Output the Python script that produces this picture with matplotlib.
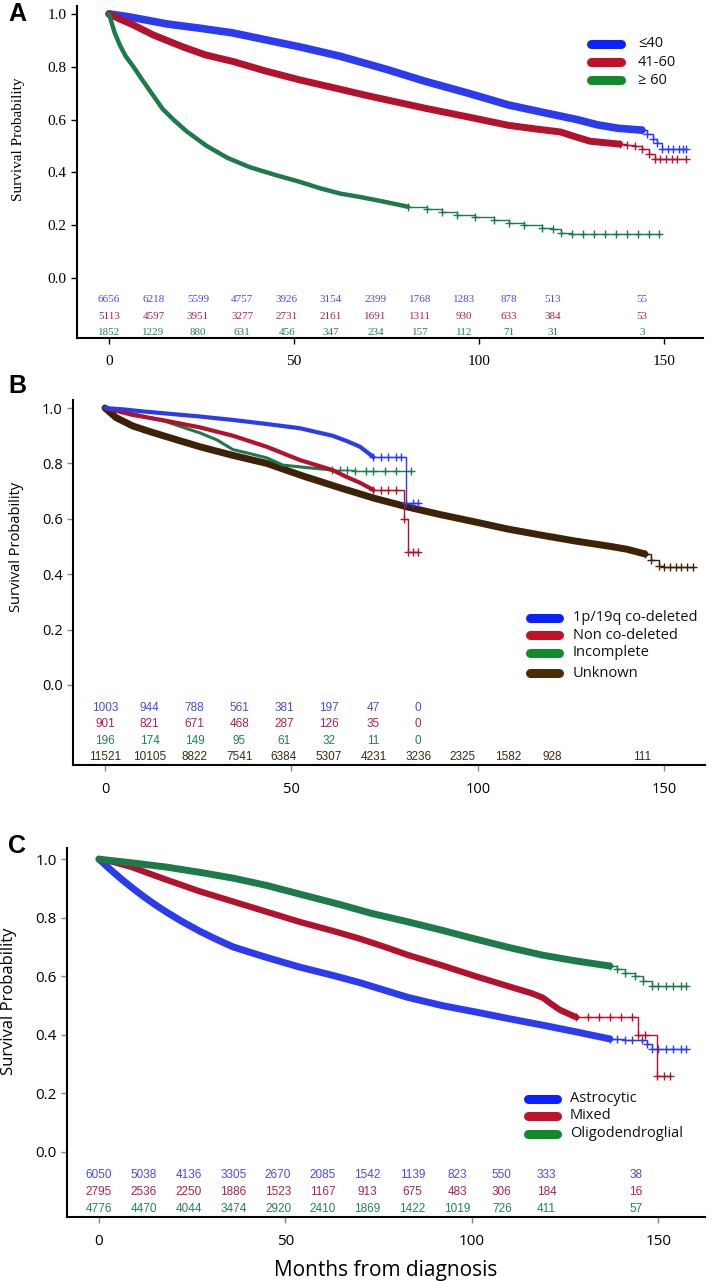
import matplotlib
matplotlib.use("Agg")
import matplotlib.pyplot as plt

# ---- data ----
# panel A: age groups
A_groups = ["≤40", "41-60", "≥ 60"]
A_t_blue = [0, 5, 10, 15.7, 25, 33.5, 42, 51.6, 62.4, 75, 85.4, 97, 108, 118, 126.5, 132, 137.6, 144]
A_s_blue = [1, 0.99, 0.977, 0.962, 0.945, 0.928, 0.903, 0.875, 0.84, 0.79, 0.745, 0.70, 0.655, 0.625,
            0.60, 0.58, 0.567, 0.56]
A_tail_t_blue = [144, 145.5, 147, 148, 149.5, 151, 152.5, 154, 155, 156]
A_tail_s_blue = [0.56, 0.545, 0.527, 0.51, 0.49, 0.49, 0.49, 0.49, 0.49, 0.49]
A_t_red = [0, 3, 6.6, 12, 20, 26, 33.5, 42, 51.6, 62.4, 70, 85.4, 97, 108, 115, 122, 126, 130, 138]
A_s_red = [1, 0.98, 0.958, 0.92, 0.875, 0.845, 0.82, 0.785, 0.75, 0.715, 0.69, 0.643, 0.61, 0.578,
           0.565, 0.553, 0.535, 0.518, 0.507]
A_tail_t_red = [138, 140, 142, 144, 146, 147.6, 149, 150.5, 152, 153.5, 156]
A_tail_s_red = [0.507, 0.505, 0.50, 0.49, 0.47, 0.45, 0.45, 0.45, 0.45, 0.45, 0.45]
A_t_green = [0, 1.5, 3, 4.5, 6.6, 9, 12, 14.5, 17.4, 21, 26.4, 32, 38, 45, 51.6, 57, 62.4, 67.8, 74, 80.8]
A_s_green = [1, 0.93, 0.88, 0.84, 0.80, 0.75, 0.69, 0.64, 0.60, 0.555, 0.50, 0.455, 0.42, 0.39, 0.364,
             0.34, 0.32, 0.307, 0.29, 0.27]
A_tail_t_green = [80.8, 86, 90, 94, 99, 104, 108, 112, 117, 120, 122, 125, 128, 131, 134, 137, 140, 143, 146, 148.6]
A_tail_s_green = [0.27, 0.26, 0.25, 0.24, 0.23, 0.22, 0.21, 0.20, 0.19, 0.186, 0.17, 0.165, 0.165, 0.165,
                  0.165, 0.165, 0.165, 0.165, 0.165, 0.165]
A_risk_months = [0, 12, 24, 36, 48, 60, 72, 84, 96, 108, 120, 144]
A_risk_blue = [6656, 6218, 5599, 4757, 3926, 3154, 2399, 1768, 1283, 878, 513, 55]
A_risk_red = [5113, 4597, 3951, 3277, 2731, 2161, 1691, 1311, 930, 633, 384, 53]
A_risk_green = [1852, 1229, 880, 631, 456, 347, 234, 157, 112, 71, 31, 3]

# panel B: 1p/19q status
B_groups = ["1p/19q co-deleted", "Non co-deleted", "Incomplete", "Unknown"]
B_t_blue = [0, 5, 10, 16.6, 25, 34.3, 43, 52.3, 61, 65, 68.4, 72]
B_s_blue = [1, 0.995, 0.988, 0.98, 0.97, 0.957, 0.943, 0.927, 0.90, 0.88, 0.86, 0.823]
B_tail_t_blue = [72, 74, 76, 78, 79.5, 80.7, 82.5, 84]
B_tail_s_blue = [0.823, 0.823, 0.823, 0.823, 0.823, 0.657, 0.657, 0.657]
B_t_red = [0, 3, 7.5, 16, 25.5, 34.3, 43.4, 52.3, 61, 65, 68.4, 72]
B_s_red = [1, 0.99, 0.975, 0.955, 0.93, 0.90, 0.86, 0.812, 0.776, 0.75, 0.73, 0.704]
B_tail_t_red = [72, 74, 76, 78, 80.2, 81.2, 82.5, 84]
B_tail_s_red = [0.704, 0.704, 0.704, 0.704, 0.60, 0.48, 0.48, 0.48]
B_t_green = [0, 3, 7.5, 12, 16.6, 21, 25.5, 30, 34.3, 39, 43.4, 47.7, 54, 61]
B_s_green = [1, 0.99, 0.98, 0.965, 0.95, 0.93, 0.91, 0.885, 0.85, 0.835, 0.82, 0.794, 0.785, 0.776]
B_tail_t_green = [61, 63, 65, 67, 70, 72, 75, 78, 82]
B_tail_s_green = [0.776, 0.776, 0.775, 0.773, 0.773, 0.773, 0.773, 0.773, 0.773]
B_t_brown = [0, 3, 7.5, 12, 16.6, 25.5, 34, 43.4, 53, 63, 72, 81, 90, 99.5, 108, 117.4, 126, 135.7, 140, 144.8]
B_s_brown = [1, 0.965, 0.935, 0.915, 0.896, 0.86, 0.83, 0.80, 0.755, 0.712, 0.675, 0.643, 0.615, 0.588,
             0.563, 0.54, 0.52, 0.50, 0.49, 0.473]
B_tail_t_brown = [144.8, 146.5, 148.5, 150, 151.5, 153, 154.5, 156, 157.6]
B_tail_s_brown = [0.473, 0.45, 0.43, 0.425, 0.425, 0.425, 0.425, 0.425, 0.425]
B_risk_months = [0, 12, 24, 36, 48, 60, 72, 84]
B_risk_months_brown = [0, 12, 24, 36, 48, 60, 72, 84, 96, 108, 120, 144]
B_risk_blue = [1003, 944, 788, 561, 381, 197, 47, 0]
B_risk_red = [901, 821, 671, 468, 287, 126, 35, 0]
B_risk_green = [196, 174, 149, 95, 61, 32, 11, 0]
B_risk_brown = [11521, 10105, 8822, 7541, 6384, 5307, 4231, 3236, 2325, 1582, 928, 111]

# panel C: histology
C_groups = ["Astrocytic", "Mixed", "Oligodendroglial"]
C_t_blue = [0, 3, 6, 9, 12, 15, 18, 22, 27, 31, 36, 45, 53.9, 62.7, 70, 82.8, 92, 101, 110, 119, 128, 137]
C_s_blue = [1, 0.965, 0.932, 0.901, 0.872, 0.845, 0.82, 0.789, 0.754, 0.729, 0.70, 0.664, 0.631, 0.603,
            0.578, 0.528, 0.50, 0.478, 0.455, 0.433, 0.41, 0.386]
C_tail_t_blue = [137, 139, 141, 143, 145.5, 147, 148.2, 150, 152, 154, 156, 157.4]
C_tail_s_blue = [0.386, 0.385, 0.384, 0.383, 0.382, 0.37, 0.352, 0.352, 0.352, 0.352, 0.352, 0.352]
C_t_red = [0, 4, 9, 13, 18, 27, 36, 45, 54, 62.7, 70, 76, 83, 92, 101, 110, 116, 119, 121, 123.6, 128]
C_s_red = [1, 0.99, 0.972, 0.953, 0.93, 0.89, 0.855, 0.82, 0.785, 0.755, 0.728, 0.703, 0.672, 0.637,
           0.60, 0.565, 0.542, 0.527, 0.508, 0.485, 0.46]
C_tail_t_red = [128, 131, 134, 137, 140, 143, 144.5, 146.5, 149.6, 151.5, 153]
C_tail_s_red = [0.46, 0.46, 0.46, 0.46, 0.46, 0.46, 0.40, 0.40, 0.26, 0.26, 0.26]
C_t_green = [0, 9, 18, 27, 36, 45, 54, 64.6, 73, 82.8, 92, 101, 110, 119, 128, 137]
C_s_green = [1, 0.987, 0.973, 0.955, 0.935, 0.91, 0.88, 0.845, 0.815, 0.786, 0.757, 0.727, 0.698, 0.672,
             0.652, 0.635]
C_tail_t_green = [137, 139, 141, 143.7, 146, 148.2, 150, 152, 154, 156, 157.4]
C_tail_s_green = [0.635, 0.625, 0.61, 0.60, 0.585, 0.567, 0.567, 0.567, 0.567, 0.567, 0.567]
C_risk_months = [0, 12, 24, 36, 48, 60, 72, 84, 96, 108, 120, 144]
C_risk_blue = [6050, 5038, 4136, 3305, 2670, 2085, 1542, 1139, 823, 550, 333, 38]
C_risk_red = [2795, 2536, 2250, 1886, 1523, 1167, 913, 675, 483, 306, 184, 16]
C_risk_green = [4776, 4470, 4044, 3474, 2920, 2410, 1869, 1422, 1019, 726, 411, 57]

xticks = [0, 50, 100, 150]
yticks = [0.0, 0.2, 0.4, 0.6, 0.8, 1.0]

# colours
BLUE, RED, GREEN, BROWN = "#2b3cf0", "#b3122c", "#1d7a4a", "#3e2208"
LEG = {"blue": "#0a22ff", "red": "#c0102a", "green": "#118a2a", "brown": "#4a2a08"}
NUM = {"blue": "#4a4ae6", "red": "#b0204a", "green": "#23805a", "brown": "#3a2a14"}

SERIF = ["Liberation Serif", "DejaVu Serif"]
SANS = ["Open Sans", "DejaVu Sans"]
NARROW = ["Liberation Sans Narrow", "Liberation Sans", "DejaVu Sans"]

W, H = 713, 1281
fig = plt.figure(figsize=(W / 100, H / 100), dpi=100)


def axes_px(left, right, top, bottom):
    return fig.add_axes([left / W, 1 - bottom / H, (right - left) / W, (bottom - top) / H])


def km(ax, t, s, tt, ts, col, lw, tail_lw=1.0):
    ax.plot(t, s, color=col, lw=lw, solid_joinstyle="round", solid_capstyle="round")
    ax.plot(tt, ts, color=col, lw=tail_lw, drawstyle="steps-post", marker="+", ms=6, mew=1.0)


def legend(ax, x0, x1, xt, rows, labels, cols, fs):
    for y, lab, c in zip(rows, labels, cols):
        ax.plot([x0, x1], [y, y], transform=ax.transAxes, color=c, lw=6.5,
                solid_capstyle="round", clip_on=False)
        ax.text(xt, y, lab, transform=ax.transAxes, va="center", ha="left",
                fontsize=fs, family=SANS, color="#111111")


def style(ax, fam, fs, tick_col, xl, yl):
    for sp in ["top", "right"]:
        ax.spines[sp].set_visible(False)
    ax.spines["left"].set_linewidth(1.5)
    ax.spines["bottom"].set_linewidth(1.5)
    ax.set_xlim(*xl)
    ax.set_ylim(*yl)
    ax.set_xticks(xticks)
    ax.set_yticks(yticks)
    ax.set_yticklabels(["%.1f" % v for v in yticks])
    ax.tick_params(direction="out", length=4, width=1, colors=tick_col, labelcolor="black")
    for lab in ax.get_xticklabels() + ax.get_yticklabels():
        lab.set_family(fam)
        lab.set_fontsize(fs)


# ---------------- A ----------------
axA = axes_px(77, 703, 6, 338)
style(axA, SERIF, 11, "black", (-8.65, 160.5), (-0.227, 1.03))
axA.tick_params(axis="x", pad=8)
km(axA, A_t_blue, A_s_blue, A_tail_t_blue, A_tail_s_blue, BLUE, 5.5)
km(axA, A_t_red, A_s_red, A_tail_t_red, A_tail_s_red, RED, 5.0)
km(axA, A_t_green, A_s_green, A_tail_t_green, A_tail_s_green, GREEN, 3.2)
for row, vals, c in zip([-0.083, -0.144, -0.205], [A_risk_blue, A_risk_red, A_risk_green],
                        ["blue", "red", "green"]):
    for m, v in zip(A_risk_months, vals):
        axA.text(m, row, str(v), ha="center", va="center", fontsize=8, family=SERIF, color=NUM[c])
axA.set_ylabel("Survival Probability", family=SERIF, fontsize=11, labelpad=6)
axA.yaxis.set_label_coords(-0.083, 0.6)
legend(axA, 0.821, 0.869, 0.896, [0.886, 0.831, 0.777], A_groups,
       [LEG["blue"], LEG["red"], LEG["green"]], 10.5)
fig.text(17 / W, 1 - 14 / H, "A", ha="center", va="center", fontsize=18, weight="bold",
         family=["Liberation Sans", "DejaVu Sans"])

# ---------------- B ----------------
axB = axes_px(73, 705, 400, 765)
style(axB, SANS, 10.5, "#7f8c8c", (-8.58, 160.9), (-0.289, 1.029))
axB.tick_params(axis="x", pad=8)
km(axB, B_t_brown, B_s_brown, B_tail_t_brown, B_tail_s_brown, BROWN, 5.0)
km(axB, B_t_green, B_s_green, B_tail_t_green, B_tail_s_green, GREEN, 2.2)
km(axB, B_t_red, B_s_red, B_tail_t_red, B_tail_s_red, RED, 3.0)
km(axB, B_t_blue, B_s_blue, B_tail_t_blue, B_tail_s_blue, BLUE, 3.0)
for row, months, vals, c in zip([-0.083, -0.141, -0.202, -0.260],
                                [B_risk_months, B_risk_months, B_risk_months, B_risk_months_brown],
                                [B_risk_blue, B_risk_red, B_risk_green, B_risk_brown],
                                ["blue", "red", "green", "brown"]):
    for m, v in zip(months, vals):
        axB.text(m, row, str(v), ha="center", va="center", fontsize=8.5, family=NARROW, color=NUM[c])
axB.set_ylabel("Survival Probability", family=SANS, fontsize=10.5)
axB.yaxis.set_label_coords(-0.077, 0.597)
legend(axB, 0.723, 0.769, 0.791, [0.403, 0.356, 0.307, 0.252], B_groups,
       [LEG["blue"], LEG["red"], LEG["green"], LEG["brown"]], 10.5)
fig.text(17 / W, 1 - 386 / H, "B", ha="center", va="center", fontsize=18, weight="bold",
         family=["Liberation Sans", "DejaVu Sans"])

# ---------------- C ----------------
axC = axes_px(67, 705, 848, 1217)
style(axC, SANS, 11, "#7f8c8c", (-8.58, 162.5), (-0.222, 1.038))
axC.tick_params(axis="x", pad=8)
km(axC, C_t_blue, C_s_blue, C_tail_t_blue, C_tail_s_blue, BLUE, 5.0)
km(axC, C_t_red, C_s_red, C_tail_t_red, C_tail_s_red, RED, 4.5)
km(axC, C_t_green, C_s_green, C_tail_t_green, C_tail_s_green, GREEN, 5.0)
for row, vals, c in zip([-0.0785, -0.137, -0.195], [C_risk_blue, C_risk_red, C_risk_green],
                        ["blue", "red", "green"]):
    for m, v in zip(C_risk_months, vals):
        axC.text(m, row, str(v), ha="center", va="center", fontsize=8.5, family=NARROW, color=NUM[c])
axC.set_ylabel("Survival Probability", family=SANS, fontsize=12)
axC.yaxis.set_label_coords(-0.078, 0.585)
axC.set_xlabel("Months from diagnosis", family=SANS, fontsize=15, labelpad=8)
legend(axC, 0.7226, 0.768, 0.788, [0.320, 0.274, 0.225], C_groups,
       [LEG["blue"], LEG["red"], LEG["green"]], 10.5)
fig.text(17 / W, 1 - 846 / H, "C", ha="center", va="center", fontsize=18, weight="bold",
         family=["Liberation Sans", "DejaVu Sans"])

fig.savefig("out.png", dpi=100)
